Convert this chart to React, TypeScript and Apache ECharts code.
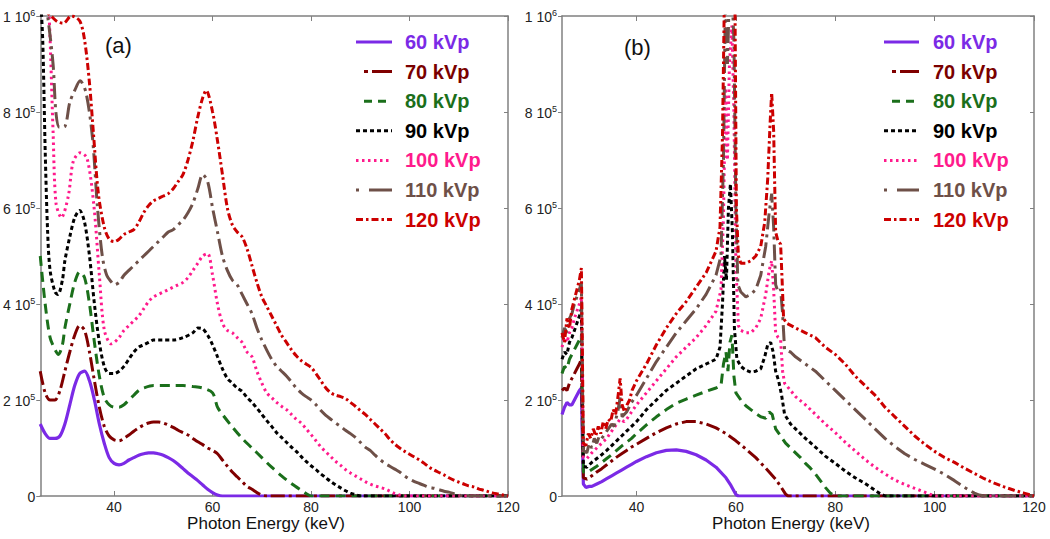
import React, { useEffect, useRef } from "react";
import * as echarts from "echarts";

// ---------- DATA (values in units of 1e5 counts, energy in keV) ----------
const seriesNames = ["60 kVp", "70 kVp", "80 kVp", "90 kVp", "100 kVp", "110 kVp", "120 kVp"];
const xTickValues = [40, 60, 80, 100, 120];
const yTickValues = [0, 2, 4, 6, 8, 10];

// Panel (a)
const a60 = [[25,1.5],[26,1.3],[27,1.2],[28,1.2],[29,1.25],[30,1.5],[31,1.9],[32,2.3],[33,2.55],[34,2.6],[35,2.4],[36,2.0],[37,1.5],[38,1.1],[39,0.8],[40,0.68],[41,0.65],[42,0.68],[43,0.75],[44,0.8],[45,0.85],[46,0.88],[47,0.9],[48,0.9],[49,0.88],[50,0.85],[51,0.8],[52,0.74],[53,0.66],[54,0.57],[55,0.48],[56,0.4],[57,0.32],[58,0.23],[59,0.14],[60,0.07],[61,0.02],[62,0],[120,0]];
const a70 = [[25,2.6],[26,2.15],[27,2.0],[28,2.0],[29,2.2],[30,2.6],[31,3.0],[32,3.35],[33,3.55],[34,3.45],[35,3.0],[36,2.4],[37,1.85],[38,1.45],[39,1.25],[40,1.17],[41,1.15],[42,1.2],[43,1.27],[44,1.35],[45,1.42],[46,1.48],[47,1.52],[48,1.54],[49,1.54],[50,1.52],[51,1.48],[52,1.43],[53,1.37],[54,1.32],[55,1.27],[56,1.2],[57,1.13],[58,1.07],[59,1.0],[60,0.95],[61,0.88],[62,0.75],[63,0.62],[64,0.5],[65,0.4],[66,0.3],[67,0.2],[68,0.14],[69,0.07],[70,0.02],[71,0],[120,0]];
const a80 = [[25,5.0],[26,4.0],[27,3.3],[28,3.05],[28.7,2.95],[29.5,3.15],[30,3.5],[31,4.0],[32,4.45],[33,4.67],[34,4.55],[35,4.0],[36,3.2],[37,2.5],[38,2.05],[39,1.9],[40,1.85],[41,1.85],[42,1.9],[43,2.0],[44,2.1],[45,2.2],[46,2.25],[48,2.3],[50,2.3],[52,2.3],[54,2.3],[56,2.28],[58,2.25],[60,2.15],[61,1.85],[62,1.7],[64,1.44],[66,1.2],[68,1.0],[70,0.8],[72,0.6],[74,0.42],[76,0.26],[78,0.12],[79.5,0.02],[80,0],[120,0]];
const a90 = [[25,10.5],[25.5,9.5],[26,7.2],[26.5,5.5],[27,4.7],[28,4.25],[28.6,4.2],[29.5,4.5],[30,4.9],[31,5.4],[32,5.8],[33,5.95],[34,5.7],[35,5.0],[36,4.0],[37,3.2],[38,2.7],[39,2.55],[40,2.55],[41,2.6],[42,2.7],[43,2.85],[44,3.0],[45,3.1],[46,3.15],[47,3.2],[48,3.25],[50,3.25],[52,3.25],[54,3.3],[56,3.4],[57,3.5],[58,3.48],[59,3.35],[60,3.15],[61,2.9],[62,2.65],[63,2.45],[64,2.35],[65,2.25],[66,2.18],[67,2.05],[68,1.95],[69,1.83],[70,1.7],[71,1.57],[72,1.45],[73,1.32],[74,1.22],[75,1.12],[76,1.02],[77,0.93],[78,0.82],[79,0.72],[80,0.63],[81,0.55],[82,0.46],[83,0.38],[84,0.3],[85,0.23],[86,0.17],[87,0.11],[88,0.06],[89,0.03],[90,0],[120,0]];
const a100 = [[25,11],[26,11],[26.8,10],[27.6,7.6],[28.2,6.1],[29.3,5.8],[30.7,6.25],[31.7,6.97],[33.1,7.15],[34.5,7.04],[35.9,6.04],[37,4.6],[38,3.46],[39.4,3.17],[40,3.2],[41,3.3],[42,3.45],[43,3.55],[44,3.65],[45,3.75],[46,3.9],[47,4.05],[48,4.15],[49,4.2],[50,4.25],[51,4.3],[52,4.35],[53,4.4],[54,4.45],[55,4.55],[56,4.7],[57,4.85],[58,5.0],[59,5.05],[60,4.6],[61,4.0],[62,3.6],[63,3.45],[64,3.4],[65,3.3],[66,3.2],[67,3.0],[68,2.9],[69,2.6],[70,2.35],[71,2.15],[72,2.05],[73,1.95],[74,1.87],[75,1.8],[76,1.7],[77,1.6],[78,1.52],[79,1.4],[80,1.28],[81,1.15],[82,1.02],[83,0.92],[84,0.82],[85,0.72],[86,0.64],[87,0.55],[88,0.48],[89,0.42],[90,0.36],[91,0.3],[92,0.25],[93,0.21],[94,0.18],[95,0.15],[96,0.1],[97,0.05],[98,0.02],[99,0],[120,0]];
const a110 = [[25,11],[26.5,10],[27.6,9.0],[28.2,7.97],[28.9,7.68],[30,7.7],[31,8.2],[32,8.45],[33.1,8.65],[34.3,8.4],[35.6,7.47],[36.6,6.04],[37.6,5.0],[38.5,4.6],[39.5,4.45],[40,4.4],[41,4.45],[42,4.6],[43,4.7],[44,4.8],[45,4.9],[46,5.0],[47,5.1],[48,5.2],[49,5.3],[50,5.4],[51,5.5],[52,5.55],[53,5.65],[54,5.75],[55,5.9],[56,6.1],[57,6.4],[58,6.7],[59,6.55],[60,6.0],[61,5.5],[62,5.0],[63,4.7],[64,4.5],[65,4.4],[66,4.2],[67,4.0],[68,3.8],[69,3.5],[70,3.25],[71,3.04],[72,2.85],[73,2.7],[74,2.6],[75,2.5],[76,2.38],[77,2.25],[78,2.15],[79,2.07],[80,2.0],[81,1.9],[82,1.78],[83,1.68],[84,1.6],[85,1.52],[86,1.45],[87,1.37],[88,1.3],[89,1.22],[90,1.12],[91,1.02],[92,0.95],[93,0.85],[94,0.76],[95,0.68],[96,0.62],[97,0.56],[98,0.5],[99,0.42],[100,0.35],[101,0.3],[102,0.26],[103,0.22],[104,0.18],[105,0.16],[106,0.13],[107,0.1],[108,0.08],[109,0.05],[110,0.02],[111,0],[120,0]];
const a120 = [[25,10.2],[27.2,10.0],[28.5,9.88],[29.7,9.85],[31.3,10.0],[33,9.9],[34,9.5],[35,8.6],[35.8,7.56],[36.8,6.3],[38,5.6],[39,5.35],[40,5.3],[41,5.35],[42,5.45],[43,5.5],[44,5.55],[45,5.7],[46,5.9],[47,6.05],[48,6.15],[49,6.2],[50,6.25],[51,6.3],[52,6.4],[53,6.55],[54,6.7],[55,7.0],[56,7.4],[57,7.9],[58,8.3],[58.7,8.45],[60,8.0],[61,7.4],[62,6.7],[63,6.0],[64,5.65],[65,5.5],[66,5.4],[67,5.15],[68,4.8],[69,4.45],[70,4.15],[71,3.95],[72,3.75],[73,3.55],[74,3.35],[75,3.2],[76,3.05],[77,2.92],[78,2.82],[79,2.75],[80,2.68],[81,2.55],[82,2.4],[83,2.25],[84,2.15],[85,2.1],[86,2.07],[87,2.03],[88,1.95],[89,1.87],[90,1.78],[91,1.7],[92,1.6],[93,1.5],[94,1.4],[95,1.3],[96,1.18],[97,1.08],[98,1.0],[99,0.93],[100,0.87],[101,0.81],[102,0.75],[103,0.68],[104,0.6],[105,0.54],[106,0.49],[107,0.44],[108,0.38],[109,0.33],[110,0.29],[111,0.25],[112,0.21],[113,0.19],[114,0.15],[115,0.12],[116,0.09],[117,0.06],[118,0.04],[119,0.02],[120,0]];

// Panel (b)
const b60 = [[25,1.7],[25.5,1.85],[26,1.95],[26.5,1.9],[27,1.9],[27.5,2.0],[28,2.1],[28.5,2.2],[28.9,2.25],[29.1,1.2],[29.3,0.25],[29.8,0.18],[30.5,0.2],[31,0.2],[32,0.25],[33,0.3],[34,0.36],[35,0.42],[36,0.48],[37,0.54],[38,0.6],[39,0.66],[40,0.72],[42,0.82],[44,0.9],[46,0.95],[48,0.96],[50,0.93],[52,0.86],[54,0.75],[56,0.6],[58,0.38],[59,0.22],[60,0.03],[60.5,0],[120,0]];
const b70 = [[25,2.2],[25.5,2.25],[26,2.2],[26.5,2.35],[27,2.45],[27.5,2.55],[28,2.65],[28.5,2.75],[28.9,2.85],[29.1,1.5],[29.3,0.38],[30,0.35],[31,0.42],[32,0.5],[33,0.57],[34,0.65],[35,0.73],[36,0.81],[37,0.88],[38,0.95],[39,1.02],[40,1.08],[42,1.2],[44,1.32],[46,1.42],[48,1.5],[50,1.55],[52,1.55],[54,1.5],[56,1.42],[58,1.3],[60,1.15],[62,0.98],[64,0.8],[66,0.58],[68,0.35],[69,0.2],[70,0.04],[70.5,0],[120,0]];
const b80 = [[25,2.55],[25.5,2.7],[26,2.65],[26.5,2.85],[27,2.95],[27.5,3.05],[28,3.15],[28.5,3.25],[28.9,3.35],[29.1,1.8],[29.3,0.5],[30,0.48],[31,0.55],[32,0.62],[33,0.7],[34,0.78],[35,0.86],[36,0.95],[37,1.04],[38,1.12],[39,1.2],[40,1.3],[42,1.48],[44,1.65],[46,1.8],[48,1.93],[50,2.02],[52,2.1],[54,2.18],[56,2.25],[57,2.3],[57.5,2.75],[58,3.0],[58.4,2.6],[58.8,3.2],[59.2,3.35],[59.6,2.5],[60,2.15],[61,2.0],[62,1.88],[63,1.8],[64,1.72],[65,1.65],[66,1.62],[66.7,1.75],[67.3,1.7],[68,1.4],[69,1.25],[70,1.1],[71,1.0],[72,0.9],[73,0.8],[74,0.68],[75,0.58],[76,0.46],[77,0.32],[78,0.18],[79,0.06],[80,0],[120,0]];
const b90 = [[25,2.85],[25.5,3.0],[26,2.95],[26.5,3.2],[27,3.3],[27.5,3.45],[28,3.6],[28.5,3.75],[28.9,3.9],[29.1,2.0],[29.3,0.62],[30,0.6],[31,0.7],[32,0.78],[33,0.86],[34,0.95],[35,1.05],[36,1.15],[37,1.25],[38,1.35],[39,1.45],[40,1.55],[42,1.8],[44,2.0],[46,2.2],[48,2.35],[50,2.5],[52,2.65],[54,2.75],[55,2.8],[56,2.85],[56.8,3.1],[57.3,4.0],[57.7,5.0],[58.1,4.5],[58.5,6.0],[58.9,6.5],[59.3,5.5],[59.7,3.5],[60.2,2.85],[61,2.7],[62,2.62],[63,2.58],[64,2.6],[65,2.65],[65.8,2.9],[66.4,3.15],[67,3.2],[67.5,3.0],[68,2.6],[68.6,2.4],[69.2,2.1],[69.8,1.7],[71,1.5],[72,1.4],[74,1.2],[76,1.02],[78,0.83],[80,0.68],[82,0.52],[84,0.38],[86,0.26],[88,0.12],[89,0.05],[90,0],[120,0]];
const b100 = [[25,3.1],[25.5,3.3],[26,3.2],[26.5,3.4],[27,3.5],[27.5,3.7],[28,3.85],[28.5,4.0],[28.9,4.15],[29.1,2.3],[29.3,0.8],[30,0.78],[31,0.9],[32,1.0],[33,1.1],[34,1.2],[35,1.35],[36,1.5],[36.7,1.6],[37.5,1.55],[38,1.6],[39,1.75],[40,1.9],[42,2.15],[44,2.4],[46,2.65],[48,2.9],[50,3.1],[52,3.3],[54,3.55],[56,3.85],[57,4.3],[57.5,5.8],[57.9,8.5],[58.3,7.0],[58.7,9.0],[59.2,9.8],[59.6,8.0],[60,4.8],[60.5,3.55],[61,3.45],[62,3.4],[63,3.4],[64,3.5],[65,3.7],[66,4.2],[66.7,4.7],[67.2,4.9],[67.6,4.3],[68,3.4],[68.5,3.3],[69,3.25],[69.4,2.6],[69.8,2.35],[71,2.2],[72,2.07],[74,1.9],[76,1.7],[78,1.5],[80,1.32],[82,1.12],[84,0.94],[86,0.76],[88,0.6],[90,0.46],[92,0.33],[94,0.24],[96,0.16],[98,0.08],[99.5,0.02],[100,0],[120,0]];
const b110 = [[25,3.3],[25.5,3.5],[26,3.4],[26.5,3.7],[27,3.8],[27.5,4.0],[28,4.15],[28.5,4.3],[28.9,4.45],[29.1,2.5],[29.3,0.95],[30,0.9],[30.5,1.1],[31,1.0],[31.5,1.2],[32,1.1],[32.5,1.25],[33,1.2],[34,1.35],[35,1.5],[35.5,1.45],[36.3,1.8],[36.7,2.05],[37.1,1.65],[38,1.75],[39,1.95],[40,2.1],[42,2.45],[44,2.8],[46,3.1],[48,3.4],[50,3.65],[52,3.9],[54,4.2],[56,4.6],[57,5.0],[57.5,7.0],[57.9,10.5],[58.3,9.0],[58.7,10.5],[59.2,10.5],[59.6,9.5],[60,6],[60.4,4.4],[61,4.25],[62,4.15],[63,4.2],[64,4.3],[65,4.6],[66,5.2],[66.7,5.9],[67.2,6.3],[67.6,5.6],[68,4.4],[68.5,4.25],[69,4.3],[69.4,3.8],[69.8,3.05],[71,3.0],[72,2.9],[74,2.75],[76,2.6],[78,2.4],[80,2.2],[82,2.0],[84,1.8],[86,1.6],[88,1.4],[90,1.2],[92,1.03],[94,0.88],[96,0.76],[98,0.66],[100,0.56],[102,0.45],[104,0.32],[106,0.18],[108,0.06],[109,0.02],[110,0],[120,0]];
const b120 = [[25,3.4],[25.5,3.2],[26,3.7],[26.5,3.5],[27,3.9],[27.5,4.1],[28,4.3],[28.5,4.5],[28.9,4.75],[29.1,3.0],[29.3,1.1],[29.8,1.05],[30.3,1.3],[30.8,1.2],[31.3,1.4],[31.8,1.25],[32.3,1.45],[32.8,1.3],[33.3,1.55],[33.8,1.4],[34.3,1.6],[34.8,1.55],[35.3,1.8],[35.8,1.7],[36.3,2.1],[36.7,2.45],[37.1,1.9],[37.6,1.75],[38.1,1.9],[38.6,2.0],[39.1,2.2],[40,2.4],[42,2.75],[44,3.15],[46,3.5],[48,3.8],[50,4.05],[52,4.35],[54,4.65],[56,5.1],[56.8,5.6],[57.3,7.5],[57.7,10.5],[58.1,11],[58.5,10.5],[59,11],[59.4,11],[59.8,10.5],[60.1,6],[60.5,5.0],[61,4.85],[62,4.85],[63,4.9],[64,5.0],[65,5.2],[65.8,5.7],[66.4,6.6],[66.9,7.8],[67.2,8.4],[67.6,7.6],[68,5.5],[68.5,5.3],[69,5.25],[69.3,4.5],[69.6,3.7],[70.2,3.6],[72,3.5],[74,3.4],[76,3.3],[78,3.1],[80,2.95],[82,2.75],[84,2.5],[86,2.3],[88,2.1],[90,1.85],[92,1.65],[94,1.45],[96,1.25],[98,1.08],[100,0.93],[102,0.8],[104,0.7],[106,0.58],[108,0.47],[110,0.36],[112,0.27],[114,0.19],[116,0.12],[118,0.06],[120,0]];

const panelA = [a60, a70, a80, a90, a100, a110, a120];
const panelB = [b60, b70, b80, b90, b100, b110, b120];

// ---------- STYLES ----------
const colors = ["#7b2ae6", "#800000", "#1b6f1b", "#000000", "#ff1a8c", "#6e5048", "#cc0000"];
const textColors = ["#7b2ae6", "#7a0000", "#1b6f1b", "#000000", "#ff1a8c", "#6e5048", "#cc0000"];
const dashes: any[] = ["solid", [14, 4, 3, 4], [10, 6], [4, 3], [2.5, 3.5], [16, 5, 3, 5], [7, 3, 2.5, 3]];
const legendDashes: any[] = [null, [4, 4, 16, 0], [8, 6], [4, 3], [2.5, 3.5], [3, 10, 20, 0], [7, 3, 2.5, 3]];

const FONT = 'Arial, "Liberation Sans", sans-serif';
const AXIS_COLOR = "#808080";

const grids = [
  { left: 39, right: 542, top: 16, bottom: 43 },
  { left: 562, right: 16, top: 16, bottom: 43 },
];

function yLabel(v: number) {
  if (v === 0) return "{n|0}";
  if (v === 10) return "{n|1 10}{s|6}";
  return `{n|${v} 10}{s|5}`;
}

export default function App() {
  const ref = useRef<HTMLDivElement>(null);
  useEffect(() => {
    if (!ref.current) return;
    const chart = echarts.init(ref.current, undefined, { renderer: "svg" });

    const xAxes: any[] = [];
    const yAxes: any[] = [];
    [0, 1].forEach((g) => {
      xAxes.push({
        type: "value", gridIndex: g, min: 25, max: 120, position: "bottom",
        splitLine: { show: false },
        axisLine: { show: true, onZero: false, lineStyle: { color: AXIS_COLOR, width: 1.5 } },
        axisTick: { show: true, inside: true, length: 5, customValues: xTickValues, lineStyle: { color: AXIS_COLOR } },
        axisLabel: { show: true, customValues: xTickValues, fontSize: 14, fontFamily: FONT, color: "#222", margin: 4 },
      });
      yAxes.push({
        type: "value", gridIndex: g, min: 0, max: 10, interval: 2, position: "left",
        splitLine: { show: false },
        axisLine: { show: true, onZero: false, lineStyle: { color: AXIS_COLOR, width: 1.5 } },
        axisTick: { show: true, inside: false, length: 4, lineStyle: { color: AXIS_COLOR } },
        axisLabel: {
          show: true, margin: 5, formatter: yLabel,
          rich: {
            n: { fontSize: 14, fontFamily: FONT, color: "#222", lineHeight: 16, verticalAlign: "bottom" },
            s: { fontSize: 9, fontFamily: FONT, color: "#222", lineHeight: 10, verticalAlign: "top" },
          },
        },
      });
    });
    [0, 1].forEach((g) => {
      xAxes.push({
        type: "value", gridIndex: g, min: 25, max: 120, position: "top",
        splitLine: { show: false },
        axisLine: { show: true, onZero: false, lineStyle: { color: AXIS_COLOR, width: 1.5 } },
        axisTick: { show: true, inside: true, length: 5, customValues: xTickValues, lineStyle: { color: AXIS_COLOR } },
        axisLabel: { show: false },
      });
      yAxes.push({
        type: "value", gridIndex: g, min: 0, max: 10, interval: 2, position: "right",
        splitLine: { show: false },
        axisLine: { show: true, onZero: false, lineStyle: { color: AXIS_COLOR, width: 1.5 } },
        axisTick: { show: true, inside: true, length: 4, lineStyle: { color: AXIS_COLOR } },
        axisLabel: { show: false },
      });
    });

    const series: any[] = [];
    [panelA, panelB].forEach((panel, g) => {
      panel.forEach((data, i) => {
        series.push({
          type: "line",
          name: seriesNames[i],
          xAxisIndex: g,
          yAxisIndex: g,
          data,
          showSymbol: false,
          symbol: "none",
          smooth: g === 0 ? 0.3 : false,
          clip: true,
          silent: true,
          z: 2 + i,
          lineStyle: { color: colors[i], width: i === 0 ? 3.2 : 3, type: dashes[i], cap: "butt" },
        });
      });
    });

    const graphic: any[] = [];
    const legendX = [
      { line0: 356, line1: 392, text: 405 },
      { line0: 884, line1: 919, text: 933 },
    ];
    legendX.forEach((lx) => {
      seriesNames.forEach((name, i) => {
        const y = 42 + i * 29.6;
        graphic.push({
          type: "line",
          shape: { x1: i === 1 || i === 2 ? lx.line0 + 8 : lx.line0, y1: y, x2: lx.line1, y2: y },
          style: { stroke: colors[i], lineWidth: 3, lineDash: legendDashes[i] || undefined },
          silent: true,
        });
        graphic.push({
          type: "text",
          x: lx.text,
          y,
          style: { text: name, fill: textColors[i], font: `bold 20px ${FONT}`, textVerticalAlign: "middle", verticalAlign: "middle" },
          silent: true,
        });
      });
    });
    graphic.push(
      { type: "text", x: 105, y: 45, style: { text: "(a)", fill: "#111", font: `22px ${FONT}`, verticalAlign: "middle" } },
      { type: "text", x: 624, y: 47, style: { text: "(b)", fill: "#111", font: `22px ${FONT}`, verticalAlign: "middle" } },
      { type: "text", x: 266, y: 523, style: { text: "Photon Energy (keV)", fill: "#111", font: `17px ${FONT}`, align: "center", verticalAlign: "middle" } },
      { type: "text", x: 791, y: 523, style: { text: "Photon Energy (keV)", fill: "#111", font: `17px ${FONT}`, align: "center", verticalAlign: "middle" } },
    );

    chart.setOption({
      animation: false,
      backgroundColor: "#ffffff",
      grid: grids.map((g) => ({ ...g, containLabel: false, show: false })),
      xAxis: xAxes,
      yAxis: yAxes,
      series,
      graphic,
    });
    return () => chart.dispose();
  }, []);

  return (
    <div
      ref={ref}
      style={{ width: 1050, height: 539, position: "absolute", left: 0, top: 0 }}
    />
  );
}
